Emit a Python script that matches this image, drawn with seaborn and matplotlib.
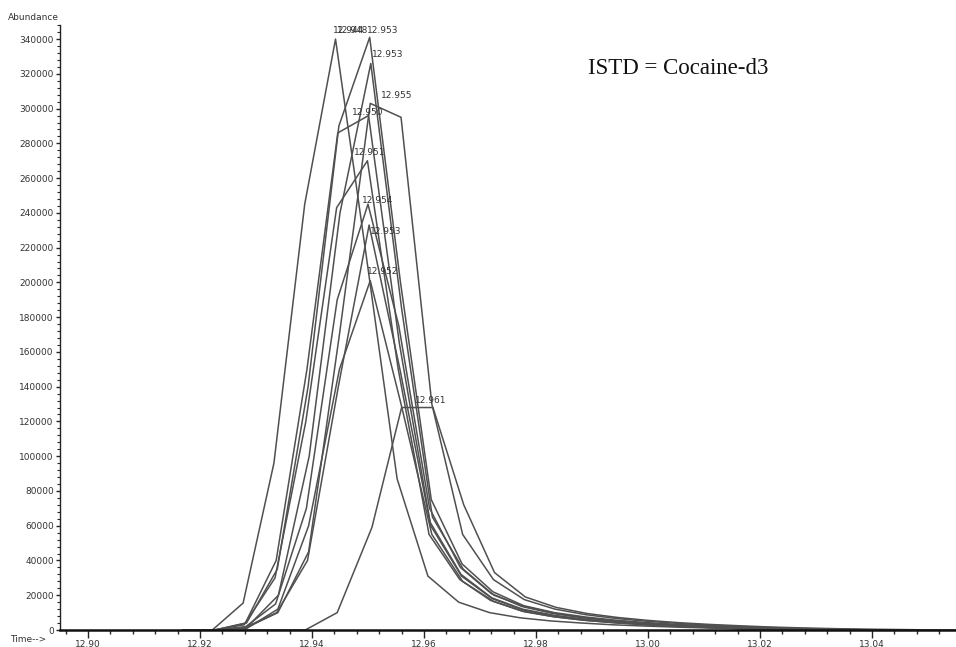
import matplotlib
matplotlib.use("Agg")
import matplotlib.pyplot as plt
from matplotlib.ticker import MultipleLocator, FixedLocator
import seaborn as sns
import pandas as pd

# ---- data (retention time in min, abundance) ----
A_t = [12.9170, 12.9222, 12.9277, 12.9332, 12.9387, 12.9442, 12.9497, 12.9552, 12.9607, 12.9662, 12.9717, 12.9772, 12.9827, 12.9882, 12.9937, 12.9992, 13.0047, 13.0102, 13.0157, 13.0212, 13.0267, 13.0322]
A_y = [0, 0, 15500, 96000, 245000, 340000, 215000, 87000, 31000, 16000, 10000, 7000, 5200, 4000, 3000, 2300, 1700, 1200, 850, 550, 300, 0]

B_t = [12.9170, 12.9228, 12.9283, 12.9338, 12.9393, 12.9448, 12.9503, 12.9558, 12.9613, 12.9668, 12.9723, 12.9778, 12.9833, 12.9888, 12.9943, 12.9998, 13.0053, 13.0108, 13.0163, 13.0218, 13.0273, 13.0328, 13.0383]
B_y = [0, 0, 4000, 35000, 140000, 290000, 341000, 200000, 75000, 38000, 22000, 14000, 10000, 7500, 5600, 4200, 3100, 2300, 1600, 1100, 700, 350, 0]

C_t = [12.9170, 12.9230, 12.9285, 12.9340, 12.9395, 12.9450, 12.9505, 12.9560, 12.9615, 12.9670, 12.9725, 12.9780, 12.9835, 12.9890, 12.9945, 13.0000, 13.0055, 13.0110, 13.0165, 13.0220, 13.0275, 13.0330]
C_y = [0, 0, 2000, 20000, 100000, 240000, 326000, 185000, 65000, 35000, 20000, 13500, 9500, 7000, 5200, 3900, 2900, 2100, 1400, 900, 450, 0]

D_t = [12.9170, 12.9229, 12.9284, 12.9339, 12.9394, 12.9449, 12.9504, 12.9559, 12.9614, 12.9669, 12.9724, 12.9779, 12.9834, 12.9889, 12.9944, 12.9999, 13.0054, 13.0109, 13.0164, 13.0219, 13.0274, 13.0329, 13.0384, 13.0439]
D_y = [0, 0, 1500, 10000, 45000, 170000, 303000, 295000, 130000, 55000, 29000, 17500, 12000, 8800, 6600, 5000, 3800, 2800, 2000, 1400, 900, 500, 200, 0]

E_t = [12.9170, 12.9226, 12.9281, 12.9336, 12.9391, 12.9446, 12.9501, 12.9556, 12.9611, 12.9666, 12.9721, 12.9776, 12.9831, 12.9886, 12.9941, 12.9996, 13.0051, 13.0106, 13.0161, 13.0216, 13.0271]
E_y = [0, 0, 4000, 40000, 150000, 286000, 296000, 165000, 62000, 32000, 18500, 12000, 8500, 6200, 4600, 3400, 2500, 1700, 1100, 600, 0]

F_t = [12.9170, 12.9224, 12.9279, 12.9334, 12.9389, 12.9444, 12.9499, 12.9554, 12.9609, 12.9664, 12.9719, 12.9774, 12.9829, 12.9884, 12.9939, 12.9994, 13.0049, 13.0104, 13.0159, 13.0214]
F_y = [0, 0, 3000, 30000, 120000, 243000, 270000, 150000, 55000, 29000, 17000, 11000, 7800, 5700, 4200, 3100, 2200, 1500, 800, 0]

G_t = [12.9170, 12.9225, 12.9280, 12.9335, 12.9390, 12.9445, 12.9500, 12.9555, 12.9610, 12.9665, 12.9720, 12.9775, 12.9830, 12.9885, 12.9940, 12.9995, 13.0050, 13.0105, 13.0160, 13.0215, 13.0270, 13.0325]
G_y = [0, 0, 1500, 15000, 70000, 190000, 245000, 175000, 70000, 36000, 21000, 13500, 9500, 7000, 5200, 3900, 2900, 2100, 1400, 900, 400, 0]

H_t = [12.9170, 12.9227, 12.9282, 12.9337, 12.9392, 12.9447, 12.9502, 12.9557, 12.9612, 12.9667, 12.9722, 12.9777, 12.9832, 12.9887, 12.9942, 12.9997, 13.0052, 13.0107, 13.0162, 13.0217]
H_y = [0, 0, 1700, 10000, 40000, 140000, 233000, 150000, 60000, 31000, 18000, 11500, 8200, 6000, 4400, 3200, 2300, 1500, 800, 0]

I_t = [12.9170, 12.9229, 12.9284, 12.9339, 12.9394, 12.9449, 12.9504, 12.9559, 12.9614, 12.9669, 12.9724, 12.9779, 12.9834, 12.9889, 12.9944, 12.9999, 13.0054, 13.0109, 13.0164, 13.0219, 13.0274]
I_y = [0, 0, 1000, 12000, 60000, 150000, 201000, 130000, 55000, 28000, 16500, 10500, 7500, 5500, 4100, 3000, 2200, 1500, 900, 400, 0]

J_t = [12.9170, 12.9388, 12.9445, 12.9507, 12.9560, 12.9616, 12.9671, 12.9726, 12.9781, 12.9836, 12.9891, 12.9946, 13.0001, 13.0056, 13.0111, 13.0166, 13.0221, 13.0276, 13.0331, 13.0386, 13.0441, 13.0496, 13.0550]
J_y = [0, 0, 10000, 59000, 128000, 128000, 72000, 33000, 19000, 13000, 9500, 7200, 5500, 4200, 3200, 2400, 1700, 1200, 800, 500, 300, 100, 0]

traces = {"A": (A_t, A_y), "B": (B_t, B_y), "C": (C_t, C_y), "D": (D_t, D_y),
          "E": (E_t, E_y), "F": (F_t, F_y), "G": (G_t, G_y), "H": (H_t, H_y),
          "I": (I_t, I_y), "J": (J_t, J_y)}

# peak annotation labels and positions
label_text = ["12.944", "12.948", "12.953", "12.953", "12.955", "12.950", "12.951", "12.954", "12.953", "12.952", "12.961"]
label_t = [12.9437, 12.9445, 12.9498, 12.9507, 12.9523, 12.9471, 12.9475, 12.9489, 12.9504, 12.9498, 12.9584]
label_y = [345000, 345000, 345000, 330900, 307800, 298000, 274500, 247400, 229000, 206000, 131800]

x_major = [12.90, 12.92, 12.94, 12.96, 12.98, 13.00, 13.02, 13.04]
x_major_labels = ["12.90", "12.92", "12.94", "12.96", "12.98", "13.00", "13.02", "13.04"]
y_major = list(range(0, 340001, 20000))

rows = []
for name, (ts, ys) in traces.items():
    for t, y in zip(ts, ys):
        rows.append({"trace": name, "time": t, "abundance": y})
df = pd.DataFrame(rows)

sns.set_style("ticks")
plt.rcParams["font.family"] = ["DejaVu Sans"]

fig = plt.figure(figsize=(9.56, 6.47), dpi=100)
ax = fig.add_axes([60 / 956, 17 / 647, 896 / 956, 605 / 647])

sns.lineplot(data=df, x="time", y="abundance", units="trace", estimator=None,
             color="#505050", linewidth=1.1, ax=ax, legend=False, sort=False)

for txt, t, y in zip(label_text, label_t, label_y):
    ax.text(t, y, txt, fontsize=6.5, color="#333333", ha="left", va="center")

ax.set_xlim(12.895, 13.055)
ax.set_ylim(0, 348100)
ax.xaxis.set_major_locator(FixedLocator(x_major))
ax.set_xticklabels(x_major_labels)
ax.xaxis.set_minor_locator(MultipleLocator(0.004))
ax.yaxis.set_major_locator(FixedLocator(y_major))
ax.set_yticklabels([str(v) for v in y_major])
ax.yaxis.set_minor_locator(MultipleLocator(4000))

ax.tick_params(axis="x", which="major", length=6, width=1, pad=1, labelsize=6.5, labelcolor="#333333")
ax.tick_params(axis="x", which="minor", length=3, width=1)
ax.tick_params(axis="y", which="major", length=3, width=1, pad=1.5, labelsize=6.5, labelcolor="#333333")
ax.tick_params(axis="y", which="minor", length=2, width=0.8)

ax.set_xlabel("")
ax.set_ylabel("")
for s in ["top", "right"]:
    ax.spines[s].set_visible(False)
ax.spines["left"].set_linewidth(1.0)
ax.spines["bottom"].set_linewidth(1.8)
ax.spines["left"].set_color("#222222")
ax.spines["bottom"].set_color("#111111")

fig.text(8 / 956, 1 - 17 / 647, "Abundance", fontsize=6.5, color="#333333", va="center", ha="left")
fig.text(10 / 956, 1 - 640 / 647, "Time-->", fontsize=6.5, color="#333333", va="center", ha="left")
fig.text(588 / 956, 1 - 68 / 647, "ISTD = Cocaine-d3", fontsize=16.5, family=["Liberation Serif"],
         color="#111111", va="center", ha="left")

fig.savefig("out.png", dpi=100)
